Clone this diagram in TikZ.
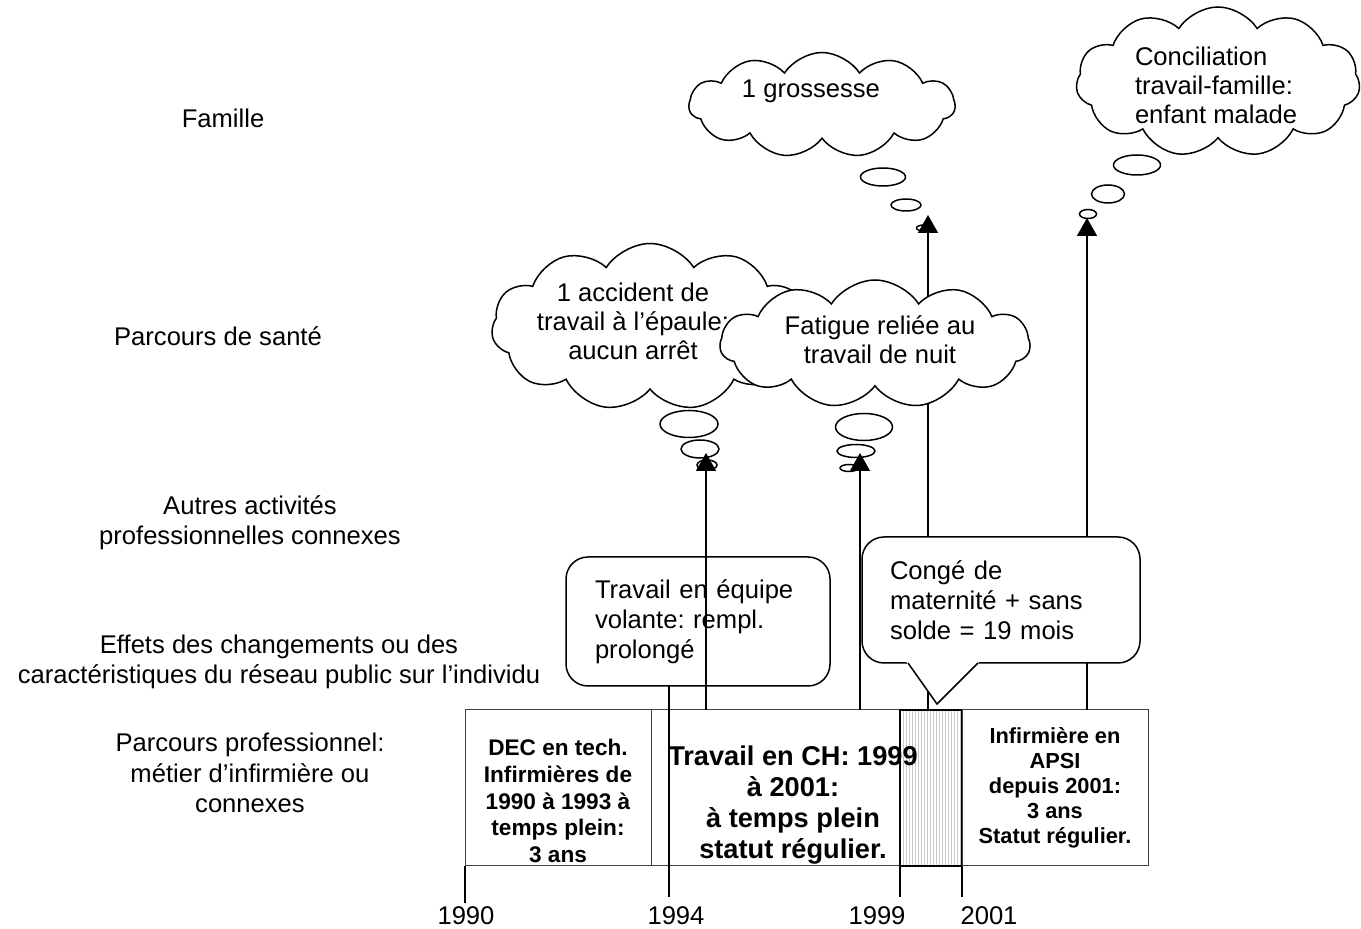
\documentclass[tikz,border=0pt]{standalone}
\usepackage{fontspec}
\setmainfont{Liberation Sans}
\usetikzlibrary{shapes.symbols,shapes.geometric,arrows.meta,calc}
\frenchspacing

\begin{document}
\begin{tikzpicture}[x=0.5pt,y=-0.5pt,
  every node/.style={inner sep=0pt, outer sep=0pt},
  txt/.style={font=\fontsize{12.8}{15.2}\selectfont, align=center},
  cloudtxt/.style={font=\fontsize{12.8}{14.5}\selectfont, align=center},
  seg/.style={draw=black!75, line width=0.5pt, minimum height=78pt},
  conn/.style={draw, line width=0.75pt},
  arr/.style={conn, -{Triangle[width=10pt,length=9pt]}},
  bub/.style={ellipse, draw, line width=0.75pt},
  thought/.style={cloud, draw, fill=white, line width=0.75pt, cloud puffs=11,
    cloud puff arc=115, cloud ignores aspect},
  callout/.style={draw, line width=0.75pt, rounded corners=11pt, align=left,
    font=\fontsize{12.8}{15}\selectfont}
]
\useasboundingbox (0,0) rectangle (1361,929);

% row labels
\node[txt] (fam) at (223,118) {Famille};
\node[txt] (sante) at (218,336) {Parcours de santé};
\node[txt] (autres) at (250,523) {Autres activités\\professionnelles connexes};
\node[txt] (effets) at (279,662) {Effets des changements ou des\\caractéristiques du réseau public sur l’individu};
\node[txt] (prof) at (250,773) {Parcours professionnel:\\métier d’infirmière ou\\connexes};

% career timeline boxes
\node[seg, minimum width=93pt] (dec) at (558,788) {};
\node[seg, minimum width=124.5pt] (ch) at (775.5,788) {};
\foreach \hx in {903,906,...,960} \draw[black!22, line width=0.3pt] (\hx,711) -- (\hx,865);
\node[seg, minimum width=31pt, draw=black, line width=0.9pt] (conge) at (931,788) {};
\node[seg, minimum width=93pt] (apsi) at (1055,788) {};

\node[align=center, font=\fontsize{11.3}{13.3}\selectfont\bfseries] (dec-t) at (558,801)
  {DEC en tech.\\Infirmières de\\1990 à 1993 à\\temps plein:\\3 ans};
\node[align=center, font=\fontsize{13.6}{15.6}\selectfont\bfseries] (ch-t) at (793,805)
  {Travail en CH: 1999\\à 2001:\\à temps plein\\statut régulier.};
\node[align=center, font=\fontsize{10.9}{12.5}\selectfont\bfseries] (apsi-t) at (1055,788)
  {Infirmière en\\APSI\\depuis 2001:\\3 ans\\Statut régulier.};

% year ticks
\coordinate (y90) at (465,903);
\coordinate (y94) at (669,897);
\coordinate (y99) at (900,897);
\coordinate (y01) at (962,897);
\draw[conn] (dec.south west) -- (y90);
\draw[conn] (conge.south west) -- (y99);
\draw[conn] (conge.south east) -- (y01);
\node[txt] (l90) at (466,916) {1990};
\node[txt] (l94) at (676,916) {1994};
\node[txt] (l99) at (877,916) {1999};
\node[txt] (l01) at (989,916) {2001};

% thought bubbles
\node[bub, minimum width=29pt, minimum height=13.5pt] (a1) at (689,424) {};
\node[bub, minimum width=19pt, minimum height=9pt] (a2) at (700,449) {};
\node[bub, minimum width=10pt, minimum height=5pt] (a3) at (707,465) {};
\node[bub, minimum width=28.5pt, minimum height=13.5pt] (f1) at (864,427) {};
\node[bub, minimum width=19pt, minimum height=6.5pt] (f2) at (856,451) {};
\node[bub, minimum width=9pt, minimum height=3.5pt] (f3) at (849,468) {};
\node[bub, minimum width=22.5pt, minimum height=9pt] (g1) at (883,177) {};
\node[bub, minimum width=15pt, minimum height=6pt] (g2) at (906,205) {};
\node[bub, minimum width=7.5pt, minimum height=3pt] (g3) at (924,228) {};
\node[bub, minimum width=23.5pt, minimum height=10pt] (c1) at (1137,165) {};
\node[bub, minimum width=16.5pt, minimum height=9pt] (c2) at (1108,194) {};
\node[bub, minimum width=8.5pt, minimum height=4.5pt] (c3) at (1088,214) {};

% event arrows
\coordinate (tipA) at (706,453);
\coordinate (tipF) at (860,453);
\coordinate (tipG) at (928,215);
\coordinate (tipC) at (1087,218);
\draw[arr] (tipA |- ch.north) -- (tipA);
\draw[arr] (tipF |- ch.north) -- (tipF);
\draw[arr] (tipG |- conge.north) -- (tipG);
\draw[arr] (tipC |- apsi.north) -- (tipC);

% clouds
\node[thought, minimum width=158.5pt, minimum height=83.5pt] (acc) at (650,327) {};
\node[cloudtxt] (acc-t) at (633,321) {1 accident de\\travail à l’épaule:\\aucun arrêt};
\node[thought, minimum width=155pt, minimum height=64pt] (fat) at (875,344) {};
\node[cloudtxt] (fat-t) at (880,340) {Fatigue reliée au\\travail de nuit};
\node[thought, minimum width=133pt, minimum height=52.5pt] (gro) at (822,105) {};
\node[cloudtxt] (gro-t) at (811,91) {1 grossesse};
\node[thought, minimum width=142pt, minimum height=75pt] (con) at (1218,82) {};
\node[cloudtxt, align=left, anchor=west] (con-t) at (1135,85) {Conciliation\\travail-famille:\\enfant malade};

% callouts
\node[callout, fill=white, minimum width=139pt, minimum height=63pt, text width=111pt] (mat) at (1001,600)
  {Congé de\\maternité + sans\\solde = 19 mois};
\fill[white] ($(mat.south)+(-95,-1.5)$) -- ($(mat.south)+(-64,41)$) -- ($(mat.south)+(-21,-1.5)$) -- cycle;
\draw[conn, line join=miter] ($(mat.south)+(-93,0)$) -- ($(mat.south)+(-64,41)$) -- ($(mat.south)+(-23,0)$);

\node[callout, minimum width=132pt, minimum height=64.5pt, text width=103pt] (eq) at (698,621.5)
  {Travail en équipe\\volante: rempl.\\prolongé};
\draw[conn] (eq.south -| y94) -- (y94);
\end{tikzpicture}
\end{document}
